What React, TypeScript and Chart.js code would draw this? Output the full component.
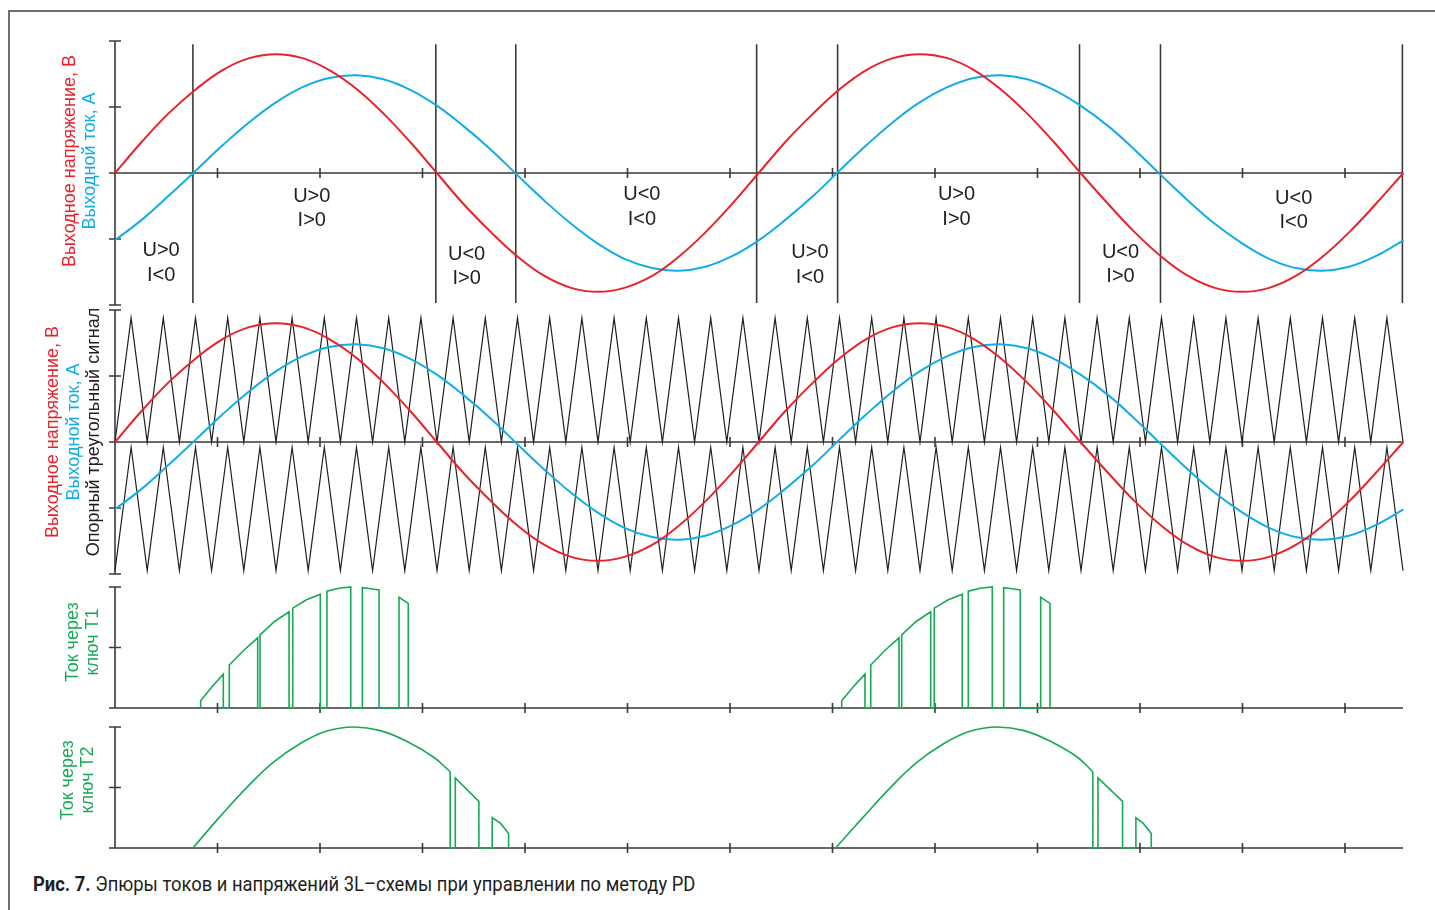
import React, { useEffect, useRef } from "react";
import { Chart, registerables } from "chart.js";

Chart.register(...registerables);

// ---------------- data (x in radians, 0 … 4π) ----------------
const X_MAX = 12.566;
const xTickValues = [1, 2, 3, 4, 5, 6, 7, 8, 9, 10, 11, 12];

const sampleX = [
  0, 0.26, 0.52, 0.79, 1.05, 1.31, 1.57, 1.83, 2.09, 2.36, 2.62, 2.88, 3.14,
  3.4, 3.67, 3.93, 4.19, 4.45, 4.71, 4.97, 5.24, 5.5, 5.76, 6.02, 6.28,
  6.54, 6.81, 7.07, 7.33, 7.59, 7.85, 8.12, 8.38, 8.64, 8.9, 9.16, 9.42,
  9.69, 9.95, 10.21, 10.47, 10.73, 11.0, 11.26, 11.52, 11.78, 12.04, 12.3, 12.57,
];

const outputVoltage = [
  0, 0.47, 0.9, 1.27, 1.56, 1.74, 1.8, 1.74, 1.56, 1.27, 0.9, 0.47, 0,
  -0.47, -0.9, -1.27, -1.56, -1.74, -1.8, -1.74, -1.56, -1.27, -0.9, -0.47, 0,
  0.47, 0.9, 1.27, 1.56, 1.74, 1.8, 1.74, 1.56, 1.27, 0.9, 0.47, 0,
  -0.47, -0.9, -1.27, -1.56, -1.74, -1.8, -1.74, -1.56, -1.27, -0.9, -0.47, 0,
];

const outputCurrent = [
  -1.02, -0.71, -0.35, 0.04, 0.42, 0.77, 1.07, 1.3, 1.44, 1.48, 1.42, 1.26, 1.02,
  0.71, 0.35, -0.04, -0.42, -0.77, -1.07, -1.3, -1.44, -1.48, -1.42, -1.26, -1.02,
  -0.71, -0.35, 0.04, 0.42, 0.77, 1.07, 1.3, 1.44, 1.48, 1.42, 1.26, 1.02,
  0.71, 0.35, -0.04, -0.42, -0.77, -1.07, -1.3, -1.44, -1.48, -1.42, -1.26, -1.02,
];

// triangular carriers (vertices, evenly spaced over 0 … 4π)
const carrierUpper = [
  0, 1.88, 0, 1.88, 0, 1.88, 0, 1.88, 0, 1.88, 0, 1.88, 0, 1.88, 0, 1.88, 0, 1.88, 0, 1.88,
  0, 1.88, 0, 1.88, 0, 1.88, 0, 1.88, 0, 1.88, 0, 1.88, 0, 1.88, 0, 1.88, 0, 1.88, 0, 1.88,
  0, 1.88, 0, 1.88, 0, 1.88, 0, 1.88, 0, 1.88, 0, 1.88, 0, 1.88, 0, 1.88, 0, 1.88, 0, 1.88,
  0, 1.88, 0, 1.88, 0, 1.88, 0, 1.88, 0, 1.88, 0, 1.88, 0, 1.88, 0, 1.88, 0, 1.88, 0, 1.88,
  0,
];
const carrierLower = [
  -1.95, -0.08, -1.95, -0.08, -1.95, -0.08, -1.95, -0.08, -1.95, -0.08, -1.95, -0.08, -1.95, -0.08, -1.95, -0.08, -1.95, -0.08, -1.95, -0.08,
  -1.95, -0.08, -1.95, -0.08, -1.95, -0.08, -1.95, -0.08, -1.95, -0.08, -1.95, -0.08, -1.95, -0.08, -1.95, -0.08, -1.95, -0.08, -1.95, -0.08,
  -1.95, -0.08, -1.95, -0.08, -1.95, -0.08, -1.95, -0.08, -1.95, -0.08, -1.95, -0.08, -1.95, -0.08, -1.95, -0.08, -1.95, -0.08, -1.95, -0.08,
  -1.95, -0.08, -1.95, -0.08, -1.95, -0.08, -1.95, -0.08, -1.95, -0.08, -1.95, -0.08, -1.95, -0.08, -1.95, -0.08, -1.95, -0.08, -1.95, -0.08,
  -1.95,
];

// region boundaries (zero crossings of U and I)
const boundaryX = [0.76, 3.13, 3.91, 6.26, 7.05, 9.41, 10.2, 12.56];
const boundaryTop = 1.95;
const boundaryBottom = -1.97;

// region labels of the top panel
const regionLabelX = [0.45, 1.92, 3.43, 5.14, 6.78, 8.21, 9.81, 11.5];
const regionLabelY = [-1.18, -0.35, -1.23, -0.33, -1.21, -0.33, -1.2, -0.38];
const regionLabelU = ["U>0", "U>0", "U<0", "U<0", "U>0", "U>0", "U<0", "U<0"];
const regionLabelI = ["I<0", "I>0", "I>0", "I<0", "I<0", "I>0", "I>0", "I<0"];

// current through switch T1: PWM pulses
const t1PulseStart = [0.836, 1.115, 1.415, 1.734, 2.068, 2.413, 2.771, 7.09, 7.373, 7.675, 7.993, 8.325, 8.67, 9.031];
const t1PulseEnd = [1.057, 1.392, 1.698, 2.003, 2.3, 2.576, 2.861, 7.317, 7.649, 7.958, 8.266, 8.559, 8.832, 9.122];
const t1StartValue = [0.12, 0.71, 1.21, 1.65, 1.93, 1.99, 1.83, 0.12, 0.71, 1.21, 1.65, 1.93, 1.99, 1.83];
const t1MidValue = [0.35, 0.95, 1.43, 1.79, 1.98, 1.97, 1.78, 0.35, 0.95, 1.43, 1.79, 1.98, 1.97, 1.78];
const t1EndValue = [0.56, 1.16, 1.59, 1.88, 2.0, 1.95, 1.73, 0.56, 1.16, 1.59, 1.88, 2.0, 1.95, 1.73];

// current through switch T2: continuous conduction part
const t2ArcX1 = [0.76, 1.02, 1.28, 1.54, 1.8, 2.06, 2.33, 2.59, 2.85, 3.11, 3.27];
const t2ArcX2 = [7.03, 7.3, 7.56, 7.82, 8.08, 8.34, 8.61, 8.87, 9.13, 9.39, 9.54];
const t2ArcY = [0, 0.51, 0.99, 1.41, 1.72, 1.93, 2.0, 1.94, 1.76, 1.5, 1.26];
// current through switch T2: PWM tail
const t2TailX1 = [3.27, 3.27, 3.32, 3.32, 3.55, 3.55, 3.68, 3.68, 3.76, 3.84, 3.84];
const t2TailX2 = [9.54, 9.54, 9.59, 9.59, 9.83, 9.83, 9.96, 9.96, 10.03, 10.11, 10.11];
const t2TailY = [1.26, 0, 0, 1.16, 0.77, 0, 0, 0.5, 0.41, 0.24, 0];

// ---------------- styles ----------------
const RED = "#e8222b";
const BLUE = "#12ade8";
const GREEN = "#17a955";
const BLACK = "#231f20";
const AXIS = "#3a3a3a";
const FONT = "'Liberation Sans', Arial, sans-serif";

type Pt = { x: number; y: number | null };

function zip(xs: number[], ys: number[]): Pt[] {
  return xs.map((x, i) => ({ x, y: ys[i] }));
}

function carrierPoints(vals: number[]): Pt[] {
  return vals.map((v, i) => ({ x: (i * X_MAX) / (vals.length - 1), y: v }));
}

function t1Points(): Pt[] {
  const pts: Pt[] = [];
  for (let i = 0; i < t1PulseStart.length; i++) {
    const s = t1PulseStart[i];
    const e = t1PulseEnd[i];
    if (i > 0 && s - t1PulseEnd[i - 1] > 1) pts.push({ x: (s + t1PulseEnd[i - 1]) / 2, y: null });
    pts.push({ x: s, y: 0 }, { x: s, y: t1StartValue[i] }, { x: (s + e) / 2, y: t1MidValue[i] }, { x: e, y: t1EndValue[i] }, { x: e, y: 0 });
  }
  return pts;
}

type Label = { x: number; y: number; lines: string[] };

function axesPlugin(yTicks: number[], labels: Label[] = []) {
  return {
    id: "panelAxes",
    beforeDatasetsDraw(chart: any) {
      const { ctx } = chart;
      const xs = chart.scales.x;
      const ys = chart.scales.y;
      const x0 = xs.getPixelForValue(0);
      const xEnd = xs.getPixelForValue(X_MAX);
      const y0 = ys.getPixelForValue(0);
      const yA = ys.getPixelForValue(Math.max(...yTicks));
      const yB = ys.getPixelForValue(Math.min(...yTicks));
      ctx.save();
      ctx.strokeStyle = AXIS;
      ctx.lineWidth = 1.6;
      ctx.beginPath();
      ctx.moveTo(x0, yA);
      ctx.lineTo(x0, yB);
      ctx.moveTo(x0, y0);
      ctx.lineTo(xEnd, y0);
      for (const t of yTicks) {
        const p = ys.getPixelForValue(t);
        ctx.moveTo(x0 - 6, p);
        ctx.lineTo(x0 + 6, p);
      }
      for (const t of xTickValues) {
        const p = xs.getPixelForValue(t);
        ctx.moveTo(p, y0 - 5);
        ctx.lineTo(p, y0 + 5);
      }
      ctx.stroke();
      ctx.restore();
    },
    afterDatasetsDraw(chart: any) {
      if (!labels.length) return;
      const { ctx } = chart;
      const xs = chart.scales.x;
      const ys = chart.scales.y;
      ctx.save();
      ctx.fillStyle = BLACK;
      ctx.font = `20px ${FONT}`;
      ctx.textAlign = "center";
      ctx.textBaseline = "middle";
      for (const l of labels) {
        const px = xs.getPixelForValue(l.x);
        const py = ys.getPixelForValue(l.y);
        l.lines.forEach((t, i) => ctx.fillText(t, px, py + i * 24.5));
      }
      ctx.restore();
    },
  };
}

function makeConfig(padTop: number, padBottom: number, yMin: number, yMax: number, yTicks: number[], datasets: any[], labels: Label[] = []): any {
  return {
    type: "line",
    data: { datasets },
    options: {
      animation: false,
      responsive: false,
      events: [],
      layout: { padding: { left: 115, right: 32, top: padTop, bottom: padBottom } },
      scales: {
        x: { type: "linear", display: false, min: 0, max: X_MAX },
        y: { type: "linear", display: false, min: yMin, max: yMax },
      },
      plugins: { legend: { display: false }, tooltip: { enabled: false } },
      elements: { point: { radius: 0 } },
    },
    plugins: [axesPlugin(yTicks, labels)],
  };
}

function line(data: Pt[], color: string, width: number, tension = 0): any {
  return { data, borderColor: color, borderWidth: width, tension, pointRadius: 0, fill: false, clip: false, spanGaps: false };
}

export default function App() {
  const c1 = useRef<HTMLCanvasElement>(null);
  const c2 = useRef<HTMLCanvasElement>(null);
  const c3 = useRef<HTMLCanvasElement>(null);
  const c4 = useRef<HTMLCanvasElement>(null);

  useEffect(() => {
    const labels: Label[] = regionLabelX.map((x, i) => ({ x, y: regionLabelY[i], lines: [regionLabelU[i], regionLabelI[i]] }));
    const boundaries = boundaryX.map((x) => line([{ x, y: boundaryTop }, { x, y: boundaryBottom }], AXIS, 1.6));

    const charts = [
      new Chart(
        c1.current!,
        makeConfig(11, 15, -2, 2, [2, 1, 0, -1, -2], [
          line(zip(sampleX, outputVoltage), RED, 2, 0.4),
          line(zip(sampleX, outputCurrent), BLUE, 2, 0.4),
          ...boundaries,
        ], labels)
      ),
      new Chart(
        c2.current!,
        makeConfig(12, 14, -2, 2, [2, 1, 0, -1, -2], [
          line(zip(sampleX, outputVoltage), RED, 2, 0.4),
          line(zip(sampleX, outputCurrent), BLUE, 2, 0.4),
          line(carrierPoints(carrierUpper), BLACK, 1.2),
          line(carrierPoints(carrierLower), BLACK, 1.2),
        ])
      ),
      new Chart(c3.current!, makeConfig(11, 12, 0, 2, [2, 1, 0], [line(t1Points(), GREEN, 1.6)])),
      new Chart(
        c4.current!,
        makeConfig(11, 12, 0, 2, [2, 1, 0], [
          line(zip(t2ArcX1, t2ArcY), GREEN, 1.6, 0.4),
          line(zip(t2TailX1, t2TailY), GREEN, 1.6),
          line(zip(t2ArcX2, t2ArcY), GREEN, 1.6, 0.4),
          line(zip(t2TailX2, t2TailY), GREEN, 1.6),
        ])
      ),
    ];
    return () => charts.forEach((c) => c.destroy());
  }, []);

  const canvasStyle = (top: number): React.CSSProperties => ({ position: "absolute", left: 0, top });

  const title = (cx: number, cy: number, lines: [string, string][], lh: number) => (
    <div
      style={{
        position: "absolute",
        left: cx,
        top: cy,
        transform: "translate(-50%, -50%) rotate(-90deg)",
        whiteSpace: "nowrap",
        textAlign: "center",
        fontFamily: FONT,
        fontSize: 18,
        lineHeight: `${lh}px`,
      }}
    >
      {lines.map(([t, c], i) => (
        <div key={i} style={{ color: c }}>
          {t}
        </div>
      ))}
    </div>
  );

  return (
    <div style={{ position: "absolute", left: 0, top: 0, width: 1435, height: 910, overflow: "hidden", background: "#fff" }}>
      <div style={{ position: "absolute", left: 8, top: 10, width: 1440, height: 920, borderTop: "2px solid #6e6e6e", borderLeft: "2px solid #6e6e6e" }} />
      <canvas ref={c1} width={1435} height={290} style={canvasStyle(30)} />
      <canvas ref={c2} width={1435} height={290} style={canvasStyle(298)} />
      <canvas ref={c3} width={1435} height={144} style={canvasStyle(576)} />
      <canvas ref={c4} width={1435} height={144} style={canvasStyle(716)} />
      {title(79, 161, [["Выходное напряжение, В", RED], ["Выходной ток, А", BLUE]], 20)}
      {title(73, 432, [["Выходное напряжение, В", RED], ["Выходной ток, А", BLUE], ["Опорный треугольный сигнал", BLACK]], 20.5)}
      {title(82, 642, [["Ток через", GREEN], ["ключ Т1", GREEN]], 20)}
      {title(77, 780, [["Ток через", GREEN], ["ключ Т2", GREEN]], 20)}
      <div
        style={{
          position: "absolute",
          left: 33,
          top: 872,
          fontFamily: "Roboto, sans-serif",
          fontSize: 20,
          color: BLACK,
          whiteSpace: "nowrap",
          transform: "scaleX(0.92)",
          transformOrigin: "left center",
          lineHeight: "24px",
        }}
      >
        <b>Рис. 7.</b> Эпюры токов и напряжений 3L–схемы при управлении по методу PD
      </div>
    </div>
  );
}
